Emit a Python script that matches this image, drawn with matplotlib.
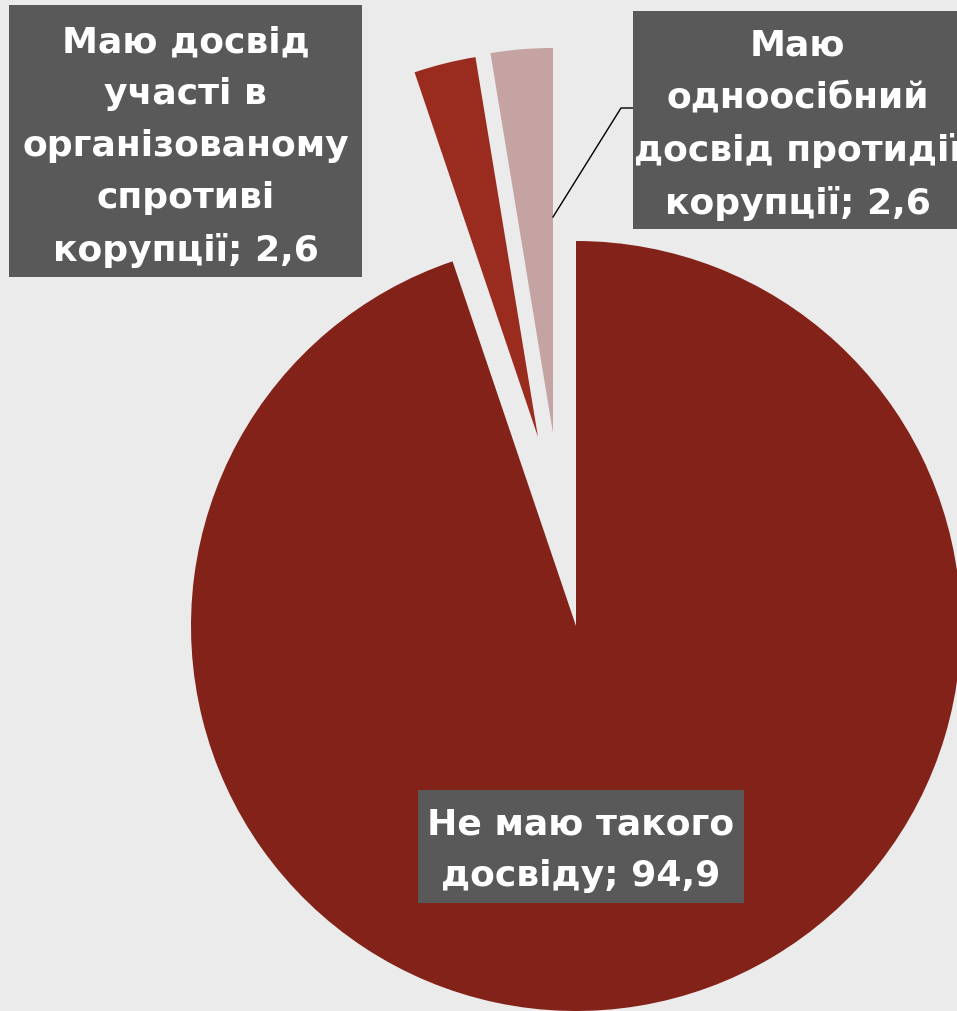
import matplotlib.pyplot as plt
from matplotlib.patches import Rectangle

# data
labels = ['Не маю такого\nдосвіду; 94,9',
          'Маю досвід\nучасті в\nорганізованому\nспротиві\nкорупції; 2,6',
          'Маю\nодноосібний\nдосвід протидії\nкорупції; 2,6']
values = [94.9, 2.6, 2.6]
colors = ['#822219', '#9a2b1f', '#c6a3a3']

plt.rcParams['font.family'] = ['DejaVu Sans']

fig = plt.figure(figsize=(9.57, 10.11), dpi=100)
fig.patch.set_facecolor('#ebebeb')
ax = fig.add_axes([0, 0, 1, 1])
ax.set_facecolor('#ebebeb')

# pixel-like coordinates, y up
W, H = 957, 1011
cx, cy, r = 576, H - 626, 385
wedges, _ = ax.pie(values, colors=colors, startangle=90, counterclock=False,
                   center=(cx, cy), radius=r, wedgeprops=dict(linewidth=0))
# pull the two small slices out
wedges[1].set_center((cx - 38, cy + 189))
wedges[2].set_center((cx - 23, cy + 193))
ax.set_xlim(0, W)
ax.set_ylim(0, H)
ax.set_aspect('equal')
ax.axis('off')

box_col = '#595959'


def label_box(x0, y0, x1, y1, text, dy=5):
    # y given top-down like the image
    ax.add_patch(Rectangle((x0, H - y1), x1 - x0, y1 - y0, facecolor=box_col,
                           edgecolor='none', zorder=5, clip_on=False))
    ax.text((x0 + x1) / 2, H - (y0 + y1) / 2 - dy, text, ha='center', va='center',
            color='white', fontsize=26, fontweight='bold', linespacing=1.66,
            zorder=6)


label_box(418, 790, 744, 903, labels[0], dy=4)
label_box(9, 5, 362, 277, labels[1], dy=6)
label_box(633, 11, 962, 229, labels[2], dy=5)

# leader line to the pink slice
ax.plot([553, 621, 633], [H - 217, H - 108, H - 108], color='black', lw=1, zorder=4)

fig.savefig('out.png', dpi=100, facecolor=fig.get_facecolor())
